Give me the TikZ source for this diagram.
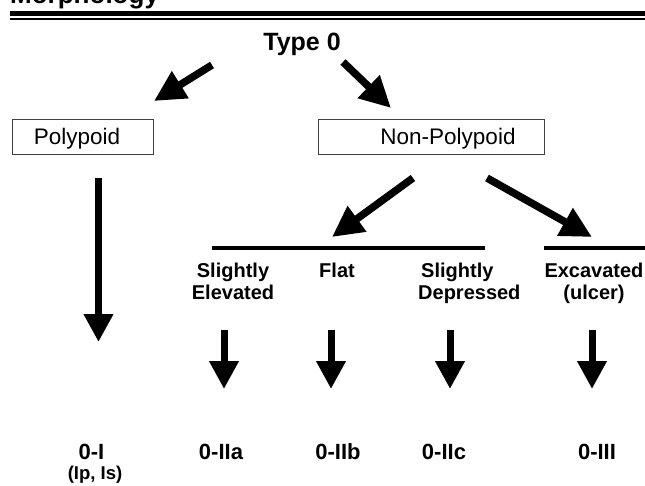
\documentclass[tikz,border=0pt]{standalone}
\usepackage{fontspec}
\setmainfont{Liberation Sans}
\usetikzlibrary{arrows.meta}
\tikzset{
  fat/.style={line width=7pt, -{Triangle[length=28pt,width=28pt]}},
  fatd/.style={line width=7.5pt, -{Triangle[length=31pt,width=30pt]}},
  rule/.style={line width=3.5pt},
  box/.style={draw=black!75, line width=0.9pt, inner sep=0pt},
  reg/.style={inner sep=0pt, font=\fontsize{22.5}{25}\selectfont},
  bld/.style={inner sep=0pt, align=center, font=\bfseries\fontsize{20}{22}\selectfont},
  code/.style={inner sep=0pt, font=\bfseries\fontsize{22}{24}\selectfont},
  sml/.style={inner sep=0pt, font=\bfseries\fontsize{18.5}{20}\selectfont},
}
\begin{document}
\begin{tikzpicture}[x=1pt,y=-1pt]
\useasboundingbox (0,0) rectangle (645,485);
% title and rules
\node[anchor=base west, inner sep=0pt, font=\bfseries\fontsize{26}{28}\selectfont] (title) at (10,3.5) {Morphology};
\coordinate (r1a) at (10,13.5); \coordinate (r1b) at (645,13.5);
\coordinate (r2a) at (10,18.8); \coordinate (r2b) at (645,18.8);
\draw[line width=5pt] (r1a) -- (r1b);
\draw[line width=2pt] (r2a) -- (r2b);
% top
\node[anchor=base, inner sep=0pt, font=\bfseries\fontsize{25}{27}\selectfont] (type0) at (302,50) {Type 0};
\node[box, minimum width=141pt, minimum height=35pt] (pbox) at (82.5,136.5) {};
\node[reg, anchor=base] (ptext) at (77,144) {Polypoid};
\node[box, minimum width=226pt, minimum height=35pt] (npbox) at (431,136.5) {};
\node[reg, anchor=base] (nptext) at (448,144) {Non-Polypoid};
% arrows from type 0
\coordinate (a1s) at (212,65); \coordinate (a1e) at (154,101);
\coordinate (a2s) at (343,62); \coordinate (a2e) at (391,108);
\draw[fatd] (a1s) -- (a1e);
\draw[fatd] (a2s) -- (a2e);
% polypoid down
\coordinate (pds) at (98.5,178); \coordinate (pde) at (98.5,342);
\draw[fat] (pds) -- (pde);
% non-polypoid branches
\coordinate (b1s) at (413,178); \coordinate (b1e) at (332,237);
\coordinate (b2s) at (487,178); \coordinate (b2e) at (592,237);
\draw[fatd] (b1s) -- (b1e);
\draw[fatd] (b2s) -- (b2e);
\coordinate (l1a) at (212,248); \coordinate (l1b) at (485,248);
\coordinate (l2a) at (544,248); \coordinate (l2b) at (645,248);
\draw[rule] (l1a) -- (l1b);
\draw[rule] (l2a) -- (l2b);
% category labels
\node[bld, anchor=north] (se) at (233,263) {Slightly\\Elevated};
\node[bld, anchor=north] (fl) at (337,263) {Flat};
\node[bld, align=left, anchor=north west] (sd) at (418,263) {\hspace*{3pt}Slightly\\Depressed};
\node[bld, anchor=north] (ex) at (594,263) {Excavated\\(ulcer)};
% down arrows
\coordinate (d1s) at (224,330); \coordinate (d1e) at (224,389);
\coordinate (d2s) at (331,330); \coordinate (d2e) at (331,389);
\coordinate (d3s) at (450,330); \coordinate (d3e) at (450,389);
\coordinate (d4s) at (592,330); \coordinate (d4e) at (592,389);
\draw[fat] (d1s) -- (d1e);
\draw[fat] (d2s) -- (d2e);
\draw[fat] (d3s) -- (d3e);
\draw[fat] (d4s) -- (d4e);
% bottom labels
\node[code, anchor=base] (t1) at (91.5,459) {0-I};
\node[sml, anchor=base] (t1b) at (95,479) {(Ip, Is)};
\node[code, anchor=base] (t2) at (221,459) {0-IIa};
\node[code, anchor=base] (t3) at (338,459) {0-IIb};
\node[code, anchor=base] (t4) at (444,459) {0-IIc};
\node[code, anchor=base] (t5) at (597,459) {0-III};
\end{tikzpicture}
\end{document}
